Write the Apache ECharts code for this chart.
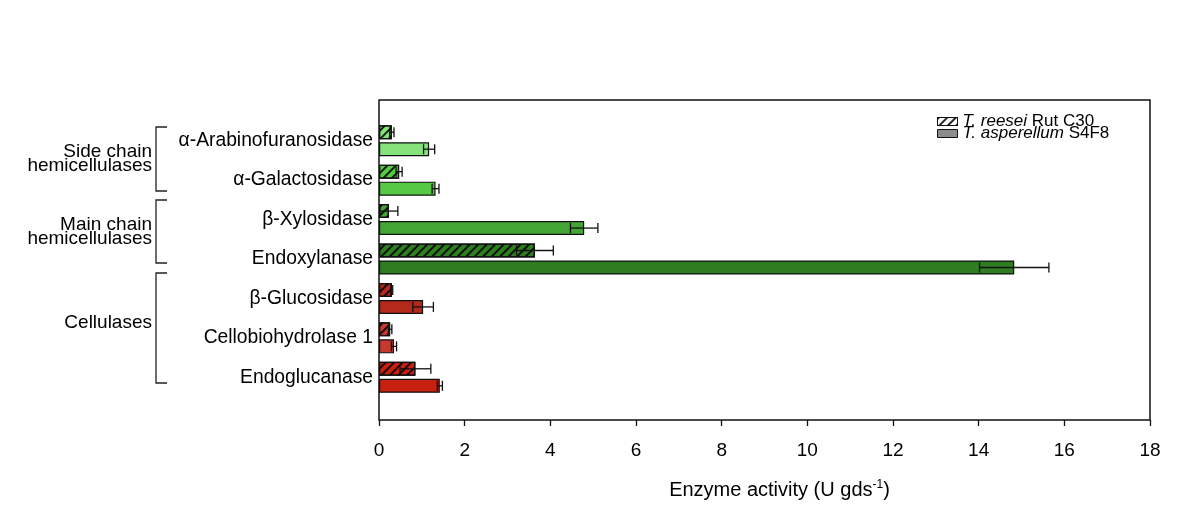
<!DOCTYPE html>
<html>
<head>
<meta charset="utf-8">
<script src="https://cdn.jsdelivr.net/npm/echarts@6/dist/echarts.min.js"></script>
<style>html,body{margin:0;padding:0;background:#fff}#c{width:1200px;height:532px}</style>
</head>
<body>
<div id="c"></div>
<script>
const categories = ['α-Arabinofuranosidase','α-Galactosidase','β-Xylosidase','Endoxylanase','β-Glucosidase','Cellobiohydrolase 1','Endoglucanase'];
const reesei = [0.30, 0.47, 0.23, 3.64, 0.30, 0.26, 0.85];
const reeseiErr = [0.05, 0.07, 0.21, 0.43, 0.02, 0.04, 0.36];
const asper = [1.17, 1.32, 4.79, 14.83, 1.03, 0.35, 1.42];
const asperErr = [0.13, 0.08, 0.32, 0.81, 0.24, 0.06, 0.06];
const barColors = ['#86e27a','#55c844','#43a534','#2f7d21','#b3291b','#c43a2e','#c9210f'];
const seriesNames = ['T. reesei Rut C30','T. asperellum S4F8'];
const groups = [
  {text:'Side chain\nhemicellulases', y:158.5, top:127, bottom:191},
  {text:'Main chain\nhemicellulases', y:232, top:200, bottom:263},
  {text:'Cellulases', y:323, top:273, bottom:383}
];

const FONT = 'Liberation Sans, Arial, sans-serif';
const BW = 14, GAP = 3;
const hatch = {symbol:'rect', symbolSize:1, dashArrayX:[1,0], dashArrayY:[2,4], rotation:-Math.PI/4, color:'rgba(0,0,0,0.85)'};

function errSeries(vals, errs, off){
  return {
    type:'custom', xAxisIndex:1, yAxisIndex:1, z:5, silent:true,
    encode:{x:0, y:1},
    data: vals.map((v,i)=>[v, i, errs[i]]),
    renderItem(params, api){
      const v = api.value(0), c = api.value(1), e = api.value(2);
      const p0 = api.coord([v-e, c]), p1 = api.coord([v+e, c]);
      const y = p0[1] + off, h = 5;
      const st = {stroke:'#111', lineWidth:1.3};
      return {type:'group', children:[
        {type:'line', shape:{x1:p0[0], y1:y, x2:p1[0], y2:y}, style:st},
        {type:'line', shape:{x1:p0[0], y1:y-h, x2:p0[0], y2:y+h}, style:st},
        {type:'line', shape:{x1:p1[0], y1:y-h, x2:p1[0], y2:y+h}, style:st}
      ]};
    }
  };
}

const graphics = [];
groups.forEach(g=>{
  graphics.push({type:'text', x:152, y:g.y, silent:true, style:{text:g.text, font:'19px '+FONT, fill:'#000', align:'right', verticalAlign:'middle', lineHeight:14}});
  graphics.push({type:'polyline', silent:true, shape:{points:[[167,g.top],[156,g.top],[156,g.bottom],[167,g.bottom]]}, style:{stroke:'#222', lineWidth:1.3, fill:null}});
});

const chart = echarts.init(document.getElementById('c'), null, {renderer:'canvas'});
chart.setOption({
  backgroundColor:'#fff',
  animation:false,
  textStyle:{fontFamily:FONT},
  grid:[
    {left:379, right:50, top:100, bottom:112, show:true, borderColor:'#111', borderWidth:1.5, backgroundColor:'transparent'},
    {left:379, right:50, top:121, height:276}
  ],
  xAxis:[
    {gridIndex:0, type:'value', min:0, max:18, interval:2,
     axisLine:{show:false}, axisTick:{show:true, inside:false, length:6, lineStyle:{color:'#111', width:1.3}},
     splitLine:{show:false},
     axisLabel:{fontSize:19, color:'#000', margin:21, fontFamily:FONT},
     name:'{a|Enzyme activity (U gds}{s|-1}{a|)}', nameLocation:'middle', nameGap:58,
     nameTextStyle:{padding:[0,0,0,30], rich:{a:{fontSize:20, color:'#000', fontFamily:FONT, lineHeight:24}, s:{fontSize:12, color:'#000', fontFamily:FONT, lineHeight:24, padding:[0,0,10,0]}}}
    },
    {gridIndex:1, type:'value', min:0, max:18, show:false}
  ],
  yAxis:[
    {gridIndex:0, type:'value', show:false},
    {gridIndex:1, type:'category', data:categories, inverse:true,
     axisLine:{show:false}, axisTick:{show:false},
     axisLabel:{fontSize:19.3, color:'#000', margin:6, fontFamily:FONT, padding:[0,0,9,0]}}
  ],
  legend:{
    orient:'vertical', left:937, top:113, itemWidth:20, itemHeight:8, itemGap:-5, itemTextGap:6,
    icon:'rect', padding:0,
    data:[
      {name:seriesNames[0], itemStyle:{color:'#fff', borderColor:'#111', borderWidth:1, decal:hatch}},
      {name:seriesNames[1], itemStyle:{color:'#8c8c8c', borderColor:'#111', borderWidth:1}}
    ],
    formatter:function(n){
      const parts = n.split(' ');
      return '{i|' + parts[0] + ' ' + parts[1] + '} {n|' + parts.slice(2).join(' ') + '}';
    },
    textStyle:{lineHeight:12, fontSize:17, rich:{i:{fontStyle:'italic', fontSize:17, color:'#000', fontFamily:FONT, lineHeight:12}, n:{fontSize:17, color:'#000', fontFamily:FONT, lineHeight:12}}}
  },
  series:[
    {name:seriesNames[0], type:'bar', xAxisIndex:1, yAxisIndex:1, barWidth:BW, barGap:(GAP/BW*100)+'%',
     itemStyle:{color:'#fff', borderColor:'#111', borderWidth:1.2, decal:hatch},
     data: reesei.map((v,i)=>({value:v, itemStyle:{color:barColors[i]}}))},
    {name:seriesNames[1], type:'bar', xAxisIndex:1, yAxisIndex:1, barWidth:BW, barGap:(GAP/BW*100)+'%',
     itemStyle:{color:'#8c8c8c', borderColor:'#111', borderWidth:1.2},
     data: asper.map((v,i)=>({value:v, itemStyle:{color:barColors[i]}}))},
    errSeries(reesei, reeseiErr, -(BW+GAP)/2),
    errSeries(asper, asperErr, (BW+GAP)/2)
  ],
  graphic: graphics
});
</script>
</body>
</html>
